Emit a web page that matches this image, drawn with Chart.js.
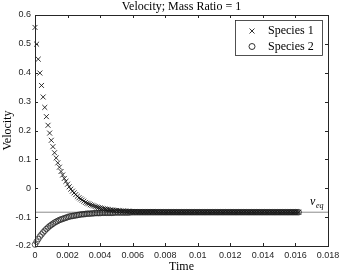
<!DOCTYPE html>
<html>
<head>
<meta charset="utf-8">
<script src="https://cdn.jsdelivr.net/npm/chart.js@4.4.0/dist/chart.umd.min.js"></script>
<style>
  html, body { margin: 0; padding: 0; background: #fff; }
  #wrap { width: 340px; height: 274px; }
</style>
</head>
<body>
<div id="wrap"><canvas id="chart" width="340" height="274"></canvas></div>
<script>
const time = [
  0, 0.0001, 0.0002, 0.0003, 0.0004, 0.0005, 0.0006, 0.0007, 0.0008, 0.0009,
  0.0010, 0.0011, 0.0012, 0.0013, 0.0014, 0.0015, 0.0016, 0.0017, 0.0018, 0.0019,
  0.0020, 0.0021, 0.0022, 0.0023, 0.0024, 0.0025, 0.0026, 0.0027, 0.0028, 0.0029,
  0.0030, 0.0031, 0.0032, 0.0033, 0.0034, 0.0035, 0.0036, 0.0037, 0.0038, 0.0039,
  0.0040, 0.0041, 0.0042, 0.0043, 0.0044, 0.0045, 0.0046, 0.0047, 0.0048, 0.0049,
  0.0050, 0.0051, 0.0052, 0.0053, 0.0054, 0.0055, 0.0056, 0.0057, 0.0058, 0.0059,
  0.0060, 0.0061, 0.0062, 0.0063, 0.0064, 0.0065, 0.0066, 0.0067, 0.0068, 0.0069,
  0.0070, 0.0071, 0.0072, 0.0073, 0.0074, 0.0075, 0.0076, 0.0077, 0.0078, 0.0079,
  0.0080, 0.0081, 0.0082, 0.0083, 0.0084, 0.0085, 0.0086, 0.0087, 0.0088, 0.0089,
  0.0090, 0.0091, 0.0092, 0.0093, 0.0094, 0.0095, 0.0096, 0.0097, 0.0098, 0.0099,
  0.0100, 0.0101, 0.0102, 0.0103, 0.0104, 0.0105, 0.0106, 0.0107, 0.0108, 0.0109,
  0.0110, 0.0111, 0.0112, 0.0113, 0.0114, 0.0115, 0.0116, 0.0117, 0.0118, 0.0119,
  0.0120, 0.0121, 0.0122, 0.0123, 0.0124, 0.0125, 0.0126, 0.0127, 0.0128, 0.0129,
  0.0130, 0.0131, 0.0132, 0.0133, 0.0134, 0.0135, 0.0136, 0.0137, 0.0138, 0.0139,
  0.0140, 0.0141, 0.0142, 0.0143, 0.0144, 0.0145, 0.0146, 0.0147, 0.0148, 0.0149,
  0.0150, 0.0151, 0.0152, 0.0153, 0.0154, 0.0155, 0.0156, 0.0157, 0.0158, 0.0159,
  0.0160, 0.0161, 0.0162
];

const species1 = [
  0.557, 0.499, 0.447, 0.399, 0.356, 0.316, 0.280, 0.248, 0.218, 0.191,
  0.166, 0.144, 0.123, 0.105, 0.088, 0.073, 0.058, 0.046, 0.034, 0.024,
  0.014, 0.005, -0.003, -0.010, -0.016, -0.022, -0.028, -0.033, -0.037, -0.041,
  -0.045, -0.049, -0.052, -0.054, -0.057, -0.059, -0.061, -0.063, -0.065, -0.067,
  -0.068, -0.070, -0.071, -0.072, -0.073, -0.074, -0.075, -0.075, -0.076, -0.077,
  -0.077, -0.078, -0.078, -0.079, -0.079, -0.079, -0.080, -0.080, -0.080, -0.081,
  -0.081, -0.081, -0.081, -0.082, -0.082, -0.082, -0.082, -0.082, -0.082, -0.082,
  -0.082, -0.082, -0.082, -0.082, -0.082, -0.082, -0.083, -0.083, -0.083, -0.083,
  -0.083, -0.083, -0.083, -0.083, -0.083, -0.083, -0.083, -0.083, -0.083, -0.083,
  -0.083, -0.083, -0.083, -0.083, -0.083, -0.083, -0.083, -0.083, -0.083, -0.083,
  -0.083, -0.083, -0.083, -0.083, -0.083, -0.083, -0.083, -0.083, -0.083, -0.083,
  -0.083, -0.083, -0.083, -0.083, -0.083, -0.083, -0.083, -0.083, -0.083, -0.083,
  -0.083, -0.083, -0.083, -0.083, -0.083, -0.083, -0.083, -0.083, -0.083, -0.083,
  -0.083, -0.083, -0.083, -0.083, -0.083, -0.083, -0.083, -0.083, -0.083, -0.083,
  -0.083, -0.083, -0.083, -0.083, -0.083, -0.083, -0.083, -0.083, -0.083, -0.083,
  -0.083, -0.083, -0.083, -0.083, -0.083, -0.083, -0.083, -0.083, -0.083, -0.083,
  -0.083, -0.083, -0.083
];

const species2 = [
  -0.195, -0.185, -0.176, -0.167, -0.160, -0.153, -0.147, -0.141, -0.136, -0.131,
  -0.127, -0.123, -0.119, -0.116, -0.113, -0.110, -0.108, -0.106, -0.104, -0.102,
  -0.100, -0.098, -0.097, -0.096, -0.095, -0.094, -0.093, -0.092, -0.091, -0.090,
  -0.090, -0.089, -0.088, -0.088, -0.088, -0.087, -0.087, -0.086, -0.086, -0.086,
  -0.086, -0.085, -0.085, -0.085, -0.085, -0.085, -0.085, -0.085, -0.085, -0.084,
  -0.084, -0.084, -0.084, -0.084, -0.084, -0.084, -0.084, -0.084, -0.084, -0.083,
  -0.083, -0.083, -0.083, -0.083, -0.083, -0.083, -0.083, -0.083, -0.083, -0.083,
  -0.083, -0.083, -0.083, -0.083, -0.083, -0.083, -0.083, -0.083, -0.083, -0.083,
  -0.083, -0.083, -0.083, -0.083, -0.083, -0.083, -0.083, -0.083, -0.083, -0.083,
  -0.083, -0.083, -0.083, -0.083, -0.083, -0.083, -0.083, -0.083, -0.083, -0.083,
  -0.083, -0.083, -0.083, -0.083, -0.083, -0.083, -0.083, -0.083, -0.083, -0.083,
  -0.083, -0.083, -0.083, -0.083, -0.083, -0.083, -0.083, -0.083, -0.083, -0.083,
  -0.083, -0.083, -0.083, -0.083, -0.083, -0.083, -0.083, -0.083, -0.083, -0.083,
  -0.083, -0.083, -0.083, -0.083, -0.083, -0.083, -0.083, -0.083, -0.083, -0.083,
  -0.083, -0.083, -0.083, -0.083, -0.083, -0.083, -0.083, -0.083, -0.083, -0.083,
  -0.083, -0.083, -0.083, -0.083, -0.083, -0.083, -0.083, -0.083, -0.083, -0.083,
  -0.083, -0.083, -0.083
];

const vEq = -0.083;
const xRange = [0, 0.018];
const yRange = [-0.2, 0.6];
const xTicks = [0, 0.002, 0.004, 0.006, 0.008, 0.01, 0.012, 0.014, 0.016, 0.018];
const yTicks = [-0.2, -0.1, 0, 0.1, 0.2, 0.3, 0.4, 0.5, 0.6];

const AXIS = '#262626';
const SERIF = '"Liberation Serif", "DejaVu Serif", serif';
const SANS = '"Liberation Sans", Arial, sans-serif';

// frame, inward ticks, legend and v_eq label (MATLAB look)
const decor = {
  id: 'decor',
  afterDraw(chart) {
    const { ctx, chartArea: a, scales: { x, y } } = chart;
    ctx.save();
    ctx.strokeStyle = AXIS;
    ctx.lineWidth = 1;
    ctx.strokeRect(Math.round(a.left) + 0.5, Math.round(a.top) + 0.5,
      Math.round(a.right - a.left), Math.round(a.bottom - a.top));
    const tl = 3;
    ctx.beginPath();
    xTicks.forEach((v) => {
      const px = Math.round(x.getPixelForValue(v)) + 0.5;
      ctx.moveTo(px, a.bottom); ctx.lineTo(px, a.bottom - tl);
      ctx.moveTo(px, a.top); ctx.lineTo(px, a.top + tl);
    });
    yTicks.forEach((v) => {
      const py = Math.round(y.getPixelForValue(v)) + 0.5;
      ctx.moveTo(a.left, py); ctx.lineTo(a.left + tl, py);
      ctx.moveTo(a.right, py); ctx.lineTo(a.right - tl, py);
    });
    ctx.stroke();

    // title
    ctx.fillStyle = '#000';
    ctx.font = '12px ' + SERIF;
    ctx.textAlign = 'center';
    ctx.textBaseline = 'alphabetic';
    ctx.fillText('Velocity; Mass Ratio = 1', (a.left + a.right) / 2, 10);

    // legend
    const lx = 235, ly = 20, lw = 87, lh = 35;
    ctx.fillStyle = '#fff';
    ctx.fillRect(lx, ly, lw, lh);
    ctx.strokeStyle = AXIS;
    ctx.lineWidth = 0.8;
    ctx.strokeRect(lx + 0.5, ly + 0.5, lw, lh);
    const mx = 252;
    const r1 = 31, r2 = 46.5;
    ctx.strokeStyle = '#000';
    ctx.lineWidth = 0.8;
    ctx.beginPath();
    ctx.moveTo(mx - 2.5, r1 - 2.5); ctx.lineTo(mx + 2.5, r1 + 2.5);
    ctx.moveTo(mx - 2.5, r1 + 2.5); ctx.lineTo(mx + 2.5, r1 - 2.5);
    ctx.stroke();
    ctx.beginPath();
    ctx.arc(mx, r2, 3, 0, Math.PI * 2);
    ctx.stroke();
    ctx.fillStyle = '#000';
    ctx.font = '12px ' + SERIF;
    ctx.textAlign = 'left';
    ctx.textBaseline = 'middle';
    ctx.fillText('Species 1', 268, r1);
    ctx.fillText('Species 2', 268, r2);

    // v_eq label
    const ey = y.getPixelForValue(vEq);
    ctx.textBaseline = 'alphabetic';
    ctx.font = 'italic 12px ' + SERIF;
    ctx.fillText('v', a.right - 18, ey - 7);
    ctx.font = 'italic 8px ' + SERIF;
    ctx.fillText('eq', a.right - 12, ey - 4);
    ctx.restore();
  }
};

const points = (vals) => time.map((t, i) => ({ x: t, y: vals[i] }));

new Chart(document.getElementById('chart'), {
  type: 'scatter',
  data: {
    datasets: [
      {
        label: 'v_eq',
        type: 'line',
        data: [{ x: xRange[0], y: vEq }, { x: xRange[1], y: vEq }],
        borderColor: '#8c8c8c',
        borderWidth: 1,
        pointRadius: 0,
        order: 3,
      },
      {
        label: 'Species 1',
        data: points(species1),
        pointStyle: 'crossRot',
        pointRadius: 3.5,
        borderColor: '#000',
        borderWidth: 0.8,
        backgroundColor: 'transparent',
        clip: false,
        order: 2,
      },
      {
        label: 'Species 2',
        data: points(species2),
        pointStyle: 'circle',
        pointRadius: 2.8,
        borderColor: '#1a1a1a',
        borderWidth: 0.7,
        backgroundColor: 'transparent',
        clip: false,
        order: 1,
      },
    ],
  },
  options: {
    responsive: false,
    animation: false,
    layout: { padding: { top: 15, right: 12, left: 0, bottom: 0 } },
    plugins: {
      legend: { display: false },
      title: { display: false },
      tooltip: { enabled: false },
    },
    scales: {
      x: {
        type: 'linear',
        min: xRange[0],
        max: xRange[1],
        afterBuildTicks: (s) => { s.ticks = xTicks.map((v) => ({ value: v })); },
        afterFit: (s) => { s.height = 28; s.paddingLeft = 0; s.paddingRight = 0; },
        grid: { display: false, drawTicks: false },
        border: { display: false },
        ticks: {
          padding: 4,
          color: AXIS,
          font: { family: SANS, size: 9 },
          maxRotation: 0,
          callback: (v) => String(+v.toFixed(3)),
        },
        title: {
          display: true,
          text: 'Time',
          color: '#000',
          font: { family: SERIF, size: 12 },
          padding: 0,
        },
      },
      y: {
        type: 'linear',
        min: yRange[0],
        max: yRange[1],
        afterBuildTicks: (s) => { s.ticks = yTicks.map((v) => ({ value: v })); },
        afterFit: (s) => { s.width = 35; },
        grid: { display: false, drawTicks: false },
        border: { display: false },
        ticks: {
          padding: 4,
          color: AXIS,
          font: { family: SANS, size: 9 },
          callback: (v) => String(+v.toFixed(1)),
        },
        title: {
          display: true,
          text: 'Velocity',
          color: '#000',
          font: { family: SERIF, size: 12 },
          padding: { top: 1, bottom: 0 },
        },
      },
    },
  },
  plugins: [decor],
});
</script>
</body>
</html>
